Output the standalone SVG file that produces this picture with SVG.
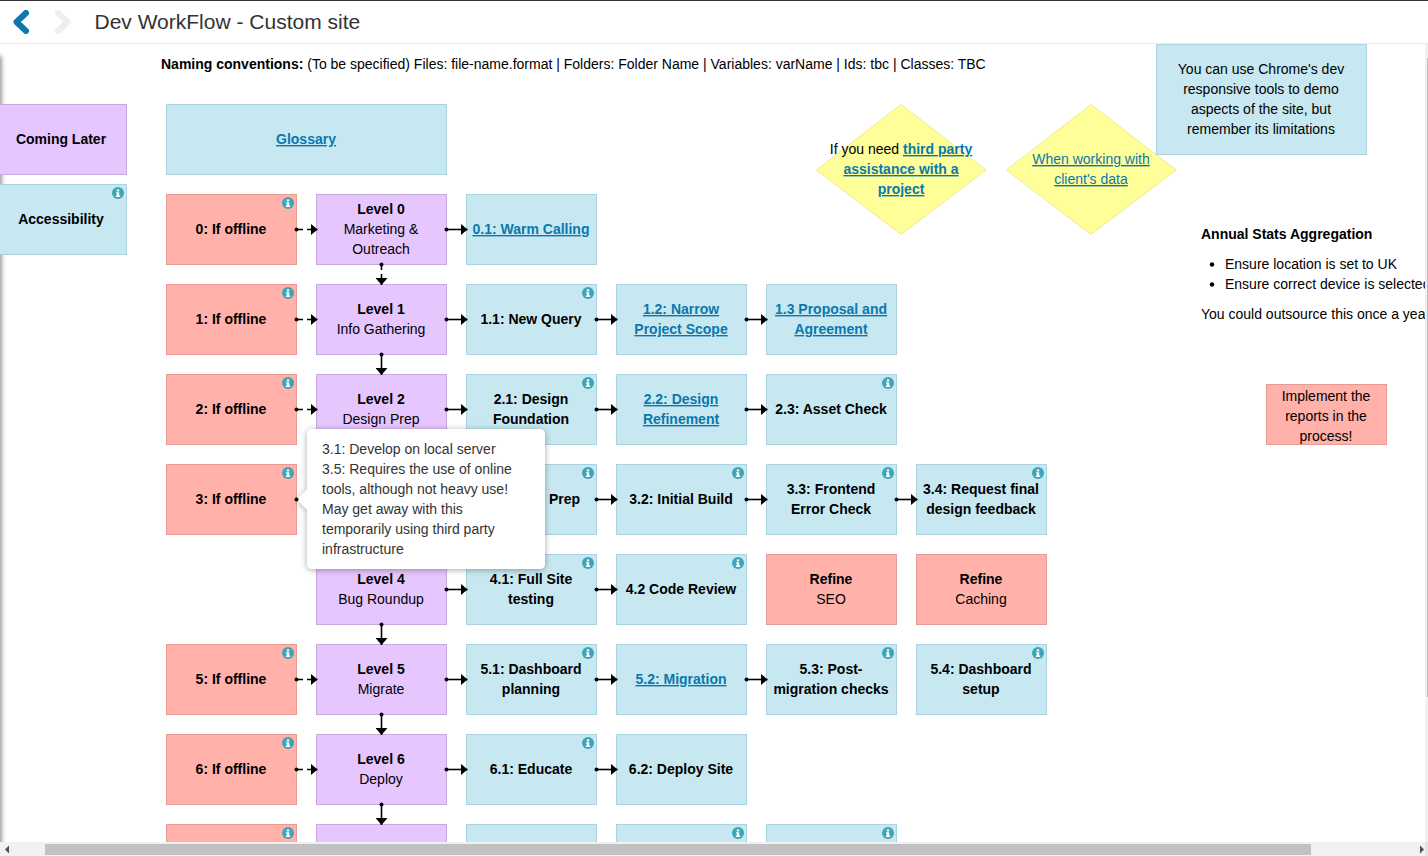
<svg xmlns="http://www.w3.org/2000/svg" width="1428" height="856" viewBox="0 0 1428 856">
<style>
text{font-family:"Liberation Sans",Arial,sans-serif;font-size:14px;fill:#000}
.m{text-anchor:middle}
.b{font-weight:bold}
.l{fill:#0a78ad;text-decoration:underline}
.blue{fill:#c7e8f1;stroke:#a9d3e0}
.red{fill:#ffb1aa;stroke:#e79a94}
.pur{fill:#e6c6ff;stroke:#c9a9dc}
.yel{fill:#ffff99;stroke:#f2e98a}
.c{fill:none;stroke:#000;stroke-width:1.6;marker-end:url(#a)}
.d{stroke-dasharray:5 4}
.dot{fill:#000}
.ih{fill:#fff}
.ic{fill:#3ba5ba}
.p{fill:#333}
</style>
<defs>
<marker id="a" markerWidth="7" markerHeight="12" refX="7" refY="6" orient="auto" markerUnits="userSpaceOnUse"><path d="M0 0L7 6L0 12Z" fill="#000"/></marker>
<g id="i"><circle class="ic" r="6"/><rect class="ih" x="-1.2" y="-3.6" width="2.4" height="2"/><path class="ih" d="M-2-.8H1.2V2.6H2.2V3.9H-2.2V2.6H-1.1V.5H-2Z"/></g>
<clipPath id="v"><rect x="0" y="44" width="1425" height="798"/></clipPath>
<filter id="s" x="-10%" y="-10%" width="120%" height="125%"><feDropShadow dx="0" dy="1" stdDeviation="3" flood-color="#000" flood-opacity=".35"/></filter>
<filter id="ls" x="-300%" y="-2%" width="700%" height="104%"><feGaussianBlur stdDeviation="2.500"/></filter>
</defs>
<rect width="1428" height="856" fill="#fff"/>
<g clip-path="url(#v)">
<rect x="-4" y="56" width="5" height="810" fill="#000" opacity=".55" filter="url(#ls)"/>

<g id="coming-later"><rect class="pur" x="-5" y="104.500" width="131.500" height="70"/><text class="m b" x="61" y="144">Coming Later</text></g>
<g id="accessibility"><rect class="blue" x="-5" y="184.500" width="131.500" height="70"/><use href="#i" x="118" y="193"/><text class="m b" x="61" y="224">Accessibility</text></g>
<g id="glossary"><rect class="blue" x="166.500" y="104.500" width="280" height="70"/><text class="m b l" x="306" y="144">Glossary</text></g>
<text id="naming" x="161" y="69"><tspan class="b">Naming conventions:</tspan> (To be specified) Files: file-name.format | Folders: Folder Name | Variables: varName | Ids: tbc | Classes: TBC</text>

<g id="d1"><path class="yel" d="M901 104.500L986 170L901 234.500L816.500 170Z"/><text class="m" x="901" y="154">If you need <tspan class="b l">third party</tspan></text><text class="m b l" x="901" y="174">assistance with a</text><text class="m b l" x="901" y="194">project</text></g>
<g id="d2"><path class="yel" d="M1091 104.500L1176 170L1091 234.500L1006.500 170Z"/><text class="m l" x="1091" y="164">When working with</text><text class="m l" x="1091" y="184">client's data</text></g>
<g id="chrome"><rect class="blue" x="1156.500" y="44.500" width="210" height="110"/><text class="m" x="1261" y="74">You can use Chrome's dev</text><text class="m" x="1261" y="94">responsive tools to demo</text><text class="m" x="1261" y="114">aspects of the site, but</text><text class="m" x="1261" y="134">remember its limitations</text></g>

<g id="annual"><text class="b" x="1201" y="239">Annual Stats Aggregation</text><circle cx="1212" cy="264.500" r="2.200"/><text x="1225" y="269">Ensure location is set to UK</text><circle cx="1212" cy="284.500" r="2.200"/><text x="1225" y="289">Ensure correct device is selected</text><text x="1201" y="319">You could outsource this once a year</text></g>
<g id="implement"><rect class="red" x="1266.500" y="384.500" width="120" height="60"/><text class="m" x="1326" y="401">Implement the</text><text class="m" x="1326" y="421">reports in the</text><text class="m" x="1326" y="441">process!</text></g>

<g id="n0o"><rect class="red" x="166.500" y="194.500" width="130" height="70"/><use href="#i" x="288" y="203"/><text class="m b" x="231" y="234">0: If offline</text></g>
<g id="l0"><rect class="pur" x="316.500" y="194.500" width="130" height="70"/><text class="m b" x="381" y="214">Level 0</text><text class="m" x="381" y="234">Marketing &amp;</text><text class="m" x="381" y="254">Outreach</text></g>
<g id="n01"><rect class="blue" x="466.500" y="194.500" width="130" height="70"/><text class="m b l" x="531" y="234">0.1: Warm Calling</text></g>

<g id="n1o"><rect class="red" x="166.500" y="284.500" width="130" height="70"/><use href="#i" x="288" y="293"/><text class="m b" x="231" y="324">1: If offline</text></g>
<g id="l1"><rect class="pur" x="316.500" y="284.500" width="130" height="70"/><text class="m b" x="381" y="314">Level 1</text><text class="m" x="381" y="334">Info Gathering</text></g>
<g id="n11"><rect class="blue" x="466.500" y="284.500" width="130" height="70"/><use href="#i" x="588" y="293"/><text class="m b" x="531" y="324">1.1: New Query</text></g>
<g id="n12"><rect class="blue" x="616.500" y="284.500" width="130" height="70"/><text class="m b l" x="681" y="314">1.2: Narrow</text><text class="m b l" x="681" y="334">Project Scope</text></g>
<g id="n13"><rect class="blue" x="766.500" y="284.500" width="130" height="70"/><text class="m b l" x="831" y="314">1.3 Proposal and</text><text class="m b l" x="831" y="334">Agreement</text></g>

<g id="n2o"><rect class="red" x="166.500" y="374.500" width="130" height="70"/><use href="#i" x="288" y="383"/><text class="m b" x="231" y="414">2: If offline</text></g>
<g id="l2"><rect class="pur" x="316.500" y="374.500" width="130" height="70"/><text class="m b" x="381" y="404">Level 2</text><text class="m" x="381" y="424">Design Prep</text></g>
<g id="n21"><rect class="blue" x="466.500" y="374.500" width="130" height="70"/><use href="#i" x="588" y="383"/><text class="m b" x="531" y="404">2.1: Design</text><text class="m b" x="531" y="424">Foundation</text></g>
<g id="n22"><rect class="blue" x="616.500" y="374.500" width="130" height="70"/><text class="m b l" x="681" y="404">2.2: Design</text><text class="m b l" x="681" y="424">Refinement</text></g>
<g id="n23"><rect class="blue" x="766.500" y="374.500" width="130" height="70"/><use href="#i" x="888" y="383"/><text class="m b" x="831" y="414">2.3: Asset Check</text></g>

<g id="n3o"><rect class="red" x="166.500" y="464.500" width="130" height="70"/><use href="#i" x="288" y="473"/><text class="m b" x="231" y="504">3: If offline</text></g>
<g id="l3"><rect class="pur" x="316.500" y="464.500" width="130" height="70"/></g>
<g id="n31"><rect class="blue" x="466.500" y="464.500" width="130" height="70"/><use href="#i" x="588" y="473"/><text class="b" x="549" y="504">Prep</text></g>
<g id="n32"><rect class="blue" x="616.500" y="464.500" width="130" height="70"/><use href="#i" x="738" y="473"/><text class="m b" x="681" y="504">3.2: Initial Build</text></g>
<g id="n33"><rect class="blue" x="766.500" y="464.500" width="130" height="70"/><use href="#i" x="888" y="473"/><text class="m b" x="831" y="494">3.3: Frontend</text><text class="m b" x="831" y="514">Error Check</text></g>
<g id="n34"><rect class="blue" x="916.500" y="464.500" width="130" height="70"/><use href="#i" x="1038" y="473"/><text class="m b" x="981" y="494">3.4: Request final</text><text class="m b" x="981" y="514">design feedback</text></g>

<g id="l4"><rect class="pur" x="316.500" y="554.500" width="130" height="70"/><text class="m b" x="381" y="584">Level 4</text><text class="m" x="381" y="604">Bug Roundup</text></g>
<g id="n41"><rect class="blue" x="466.500" y="554.500" width="130" height="70"/><use href="#i" x="588" y="563"/><text class="m b" x="531" y="584">4.1: Full Site</text><text class="m b" x="531" y="604">testing</text></g>
<g id="n42"><rect class="blue" x="616.500" y="554.500" width="130" height="70"/><use href="#i" x="738" y="563"/><text class="m b" x="681" y="594">4.2 Code Review</text></g>
<g id="seo"><rect class="red" x="766.500" y="554.500" width="130" height="70"/><text class="m b" x="831" y="584">Refine</text><text class="m" x="831" y="604">SEO</text></g>
<g id="caching"><rect class="red" x="916.500" y="554.500" width="130" height="70"/><text class="m b" x="981" y="584">Refine</text><text class="m" x="981" y="604">Caching</text></g>

<g id="n5o"><rect class="red" x="166.500" y="644.500" width="130" height="70"/><use href="#i" x="288" y="653"/><text class="m b" x="231" y="684">5: If offline</text></g>
<g id="l5"><rect class="pur" x="316.500" y="644.500" width="130" height="70"/><text class="m b" x="381" y="674">Level 5</text><text class="m" x="381" y="694">Migrate</text></g>
<g id="n51"><rect class="blue" x="466.500" y="644.500" width="130" height="70"/><use href="#i" x="588" y="653"/><text class="m b" x="531" y="674">5.1: Dashboard</text><text class="m b" x="531" y="694">planning</text></g>
<g id="n52"><rect class="blue" x="616.500" y="644.500" width="130" height="70"/><text class="m b l" x="681" y="684">5.2: Migration</text></g>
<g id="n53"><rect class="blue" x="766.500" y="644.500" width="130" height="70"/><use href="#i" x="888" y="653"/><text class="m b" x="831" y="674">5.3: Post-</text><text class="m b" x="831" y="694">migration checks</text></g>
<g id="n54"><rect class="blue" x="916.500" y="644.500" width="130" height="70"/><use href="#i" x="1038" y="653"/><text class="m b" x="981" y="674">5.4: Dashboard</text><text class="m b" x="981" y="694">setup</text></g>

<g id="n6o"><rect class="red" x="166.500" y="734.500" width="130" height="70"/><use href="#i" x="288" y="743"/><text class="m b" x="231" y="774">6: If offline</text></g>
<g id="l6"><rect class="pur" x="316.500" y="734.500" width="130" height="70"/><text class="m b" x="381" y="764">Level 6</text><text class="m" x="381" y="784">Deploy</text></g>
<g id="n61"><rect class="blue" x="466.500" y="734.500" width="130" height="70"/><use href="#i" x="588" y="743"/><text class="m b" x="531" y="774">6.1: Educate</text></g>
<g id="n62"><rect class="blue" x="616.500" y="734.500" width="130" height="70"/><text class="m b" x="681" y="774">6.2: Deploy Site</text></g>

<g id="n7o"><rect class="red" x="166.500" y="824.500" width="130" height="70"/><use href="#i" x="288" y="833"/></g>
<g id="l7"><rect class="pur" x="316.500" y="824.500" width="130" height="70"/></g>
<g id="n71"><rect class="blue" x="466.500" y="824.500" width="130" height="70"/></g>
<g id="n72"><rect class="blue" x="616.500" y="824.500" width="130" height="70"/><use href="#i" x="738" y="833"/></g>
<g id="n73"><rect class="blue" x="766.500" y="824.500" width="130" height="70"/><use href="#i" x="888" y="833"/></g>

<g id="connectors">
<path class="c d" d="M298 229.500H317.500"/>
<path class="c d" d="M298 319.500H317.500"/>
<path class="c d" d="M298 409.500H317.500"/>
<path class="c d" d="M298 679.500H317.500"/>
<path class="c d" d="M298 769.500H317.500"/>
<path class="c d" d="M381.500 265V285"/>
<path class="c" d="M381.500 355V375"/>
<path class="c" d="M381.500 625V645"/>
<path class="c" d="M381.500 715V735"/>
<path class="c" d="M381.500 805V825"/>
<path class="c" d="M447 229.500H467.500"/>
<path class="c" d="M447 319.500H467.500"/>
<path class="c" d="M597 319.500H617.500"/>
<path class="c" d="M747 319.500H767.500"/>
<path class="c" d="M447 409.500H467.500"/>
<path class="c" d="M597 409.500H617.500"/>
<path class="c" d="M747 409.500H767.500"/>
<path class="c" d="M597 499.500H617.500"/>
<path class="c" d="M747 499.500H767.500"/>
<path class="c" d="M897 499.500H917.500"/>
<path class="c" d="M447 589.500H467.500"/>
<path class="c" d="M597 589.500H617.500"/>
<path class="c" d="M447 679.500H467.500"/>
<path class="c" d="M597 679.500H617.500"/>
<path class="c" d="M747 679.500H767.500"/>
<path class="c" d="M447 769.500H467.500"/>
<path class="c" d="M597 769.500H617.500"/>
<g class="dot"><circle cx="296.500" cy="229.500" r="2"/><circle cx="296.500" cy="319.500" r="2"/><circle cx="296.500" cy="409.500" r="2"/><circle cx="381.500" cy="264.500" r="2"/><circle cx="381.500" cy="354.500" r="2"/><circle cx="381.500" cy="624.500" r="2"/><circle cx="381.500" cy="714.500" r="2"/><circle cx="381.500" cy="804.500" r="2"/><circle cx="296.500" cy="679.500" r="2"/><circle cx="296.500" cy="769.500" r="2"/><circle cx="446.500" cy="229.500" r="2"/><circle cx="446.500" cy="319.500" r="2"/><circle cx="596.500" cy="319.500" r="2"/><circle cx="746.500" cy="319.500" r="2"/><circle cx="446.500" cy="409.500" r="2"/><circle cx="596.500" cy="409.500" r="2"/><circle cx="746.500" cy="409.500" r="2"/><circle cx="596.500" cy="499.500" r="2"/><circle cx="746.500" cy="499.500" r="2"/><circle cx="896.500" cy="499.500" r="2"/><circle cx="446.500" cy="589.500" r="2"/><circle cx="596.500" cy="589.500" r="2"/><circle cx="446.500" cy="679.500" r="2"/><circle cx="596.500" cy="679.500" r="2"/><circle cx="746.500" cy="679.500" r="2"/><circle cx="446.500" cy="769.500" r="2"/><circle cx="596.500" cy="769.500" r="2"/></g>
</g>

<g id="popup"><path d="M312 429H540a5 5 0 0 1 5 5V564a5 5 0 0 1-5 5H312a5 5 0 0 1-5-5V509.500L297 499.500L307 489.500V434a5 5 0 0 1 5-5Z" fill="#fff" filter="url(#s)"/>
<text class="p" x="322" y="454">3.1: Develop on local server</text><text class="p" x="322" y="474">3.5: Requires the use of online</text><text class="p" x="322" y="494">tools, although not heavy use!</text><text class="p" x="322" y="514">May get away with this</text><text class="p" x="322" y="534">temporarily using third party</text><text class="p" x="322" y="554">infrastructure</text></g>
<circle class="dot" cx="296.500" cy="499.500" r="2"/>
</g>

<g id="toolbar"><rect width="1428" height="44" fill="#fff"/><rect width="1428" height="1" fill="#333"/><rect y="43" width="1428" height="1" fill="#eee"/>
<path d="M26 13L16.500 22L26 31" fill="none" stroke="#0a78ad" stroke-width="6" stroke-linecap="round" stroke-linejoin="round"/>
<path d="M58 13L67.500 22L58 31" fill="none" stroke="#eee" stroke-width="6" stroke-linecap="round" stroke-linejoin="round"/>
<text x="94.500" y="29" style="font-size:21px;fill:#333">Dev WorkFlow - Custom site</text></g>

<g id="scrollbars"><rect x="1425" y="44" width="3" height="798" fill="#f1f1f1"/><rect x="1427" y="58" width="1" height="639" fill="#c1c1c1"/><rect y="842" width="1428" height="14" fill="#f1f1f1"/><rect x="1425" y="842" width="3" height="14" fill="#e4e4e4"/><rect x="45" y="844" width="1266" height="11" fill="#c1c1c1"/><path d="M5 849.500L9 845.500V853.500Z" fill="#505050"/><path d="M1424 849.500L1420 845.500V853.500Z" fill="#505050"/></g>
</svg>
